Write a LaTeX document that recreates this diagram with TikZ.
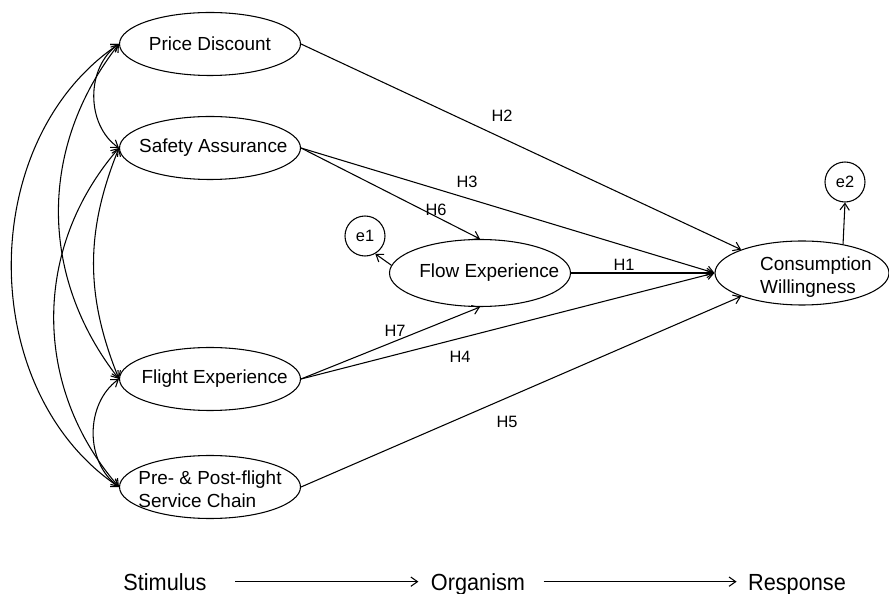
\documentclass[tikz,border=0pt]{standalone}
\usepackage{fontspec}
\setmainfont{Liberation Sans}
\newfontfamily\narrowfont[FakeStretch=0.93]{Liberation Sans}
\usetikzlibrary{shapes.geometric, arrows.meta}
\begin{document}
\begin{tikzpicture}[x=0.75pt, y=0.75pt, line width=0.8pt, >={Straight Barb[length=5pt, width=7pt]},
  var/.style={ellipse, draw, minimum width=135.75pt, minimum height=47.25pt, inner sep=0pt},
  vartext/.style={inner sep=0pt, align=left, font=\fontsize{14.2}{17.2}\selectfont},
  err/.style={circle, draw, minimum size=30pt, inner sep=0pt, font=\fontsize{12.3}{14}\selectfont},
  hlab/.style={inner sep=0pt, font=\fontsize{12.3}{14}\selectfont},
  stage/.style={anchor=base, inner sep=0pt, font=\narrowfont\fontsize{17.5}{20}\selectfont}]
\useasboundingbox (0,0) rectangle (889,593);
\node[var, label={[vartext]center:Price Discount}] (pd) at (210,549){};
\node[var, label={[vartext, xshift=2.5pt]center:Safety Assurance}] (sa) at (210,445){};
\node[var, label={[vartext, xshift=3.5pt]center:Flight Experience}] (fl) at (210,214){};
\node[var, label={[vartext, yshift=-2pt]center:Pre- \& Post-flight\\Service Chain}] (ps) at (210,106){};
\node[var, minimum height=50.25pt, label={[vartext, xshift=7pt]center:Flow Experience}] (flow) at (480,320){};
\node[var, minimum width=130.5pt, minimum height=48pt, label={[vartext, xshift=10.5pt, yshift=-3.2pt]center:Consumption\\Willingness}] (cw) at (802,320){};
\node[err] (e1) at (365,357){e1};
\node[err] (e2) at (845,411){e2};
\draw[->](pd.east) -- (cw.159);
\draw[->](sa.east) -- (cw.west);
\draw[->](sa.east) -- (flow.north);
\draw[->](flow.east) -- (cw.west);
\draw[->](fl.east) -- (flow.south);
\draw[->](fl.east) -- (cw.west);
\draw[->](ps.east) -- (cw.201);
\draw[->](flow.175) -- (e1.-60);
\draw[->](cw.35) -- (e2.south);
\node[hlab] (h1) at (624,328){H1};
\node[hlab] (h2) at (502,477){H2};
\node[hlab] (h3) at (467,411){H3};
\node[hlab] (h4) at (460,236){H4};
\node[hlab] (h5) at (507,171){H5};
\node[hlab] (h6) at (436,383){H6};
\node[hlab] (h7) at (395,262){H7};
\draw[<->](pd.west) to[out=215, in=145] (sa.west);
\draw[<->](pd.west) to[out=232, in=128] (fl.west);
\draw[<->](pd.west) to[out=214, in=146] (ps.west);
\draw[<->](sa.west) to[out=248, in=112] (fl.west);
\draw[<->](sa.west) to[out=229, in=131] (ps.west);
\draw[<->](fl.west) to[out=216, in=144] (ps.west);
\node[stage] (stim) at (165,3){Stimulus};
\node[stage] (org) at (478,3){Organism};
\node[stage] (resp) at (797,3){Response};
\draw[->, shorten <=21pt, shorten >=9pt](stim.east) -- (stim.east -| org.west);
\draw[->, shorten <=13.5pt, shorten >=8.25pt](org.east |- stim.east) -- (stim.east -| resp.west);
\end{tikzpicture}
\end{document}
